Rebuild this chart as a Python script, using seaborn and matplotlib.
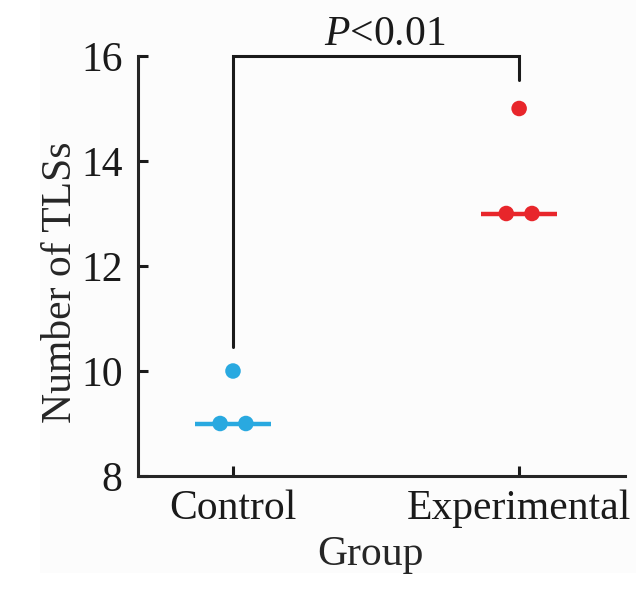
"""Scatter dot plot of TLS counts per group with median lines."""

import matplotlib

matplotlib.use("Agg")

import matplotlib.pyplot as plt
import numpy as np
import pandas as pd
import seaborn as sns
from matplotlib.patches import Rectangle

# Data
groups = ["Control", "Experimental"]
control_values = [10, 9, 9]
experimental_values = [15, 13, 13]
colors = ["#29A9E0", "#E8262B"]
y_ticks = [8, 10, 12, 14, 16]
p_label = r"$\it{P}$<0.01"

sns.set_theme(style="ticks")
plt.rcParams["font.family"] = ["Liberation Serif", "DejaVu Serif"]
plt.rcParams["mathtext.fontset"] = "custom"
plt.rcParams["mathtext.it"] = "Liberation Serif:italic"
plt.rcParams["mathtext.rm"] = "Liberation Serif"

rows = []
for gi, (name, vals) in enumerate(zip(groups, [control_values, experimental_values])):
    vals = np.asarray(vals)
    for v in np.unique(vals):
        n = int((vals == v).sum())
        # spread tied values symmetrically around the category centre
        offsets = (np.arange(n) - (n - 1) / 2) * 0.09
        for off in offsets:
            rows.append({"group": name, "x": gi + off, "value": v})
df = pd.DataFrame(rows)

fig = plt.figure(figsize=(6.42, 6.02), dpi=100)
fig.patches.append(
    Rectangle((40 / 642, 1 - 573 / 602), 596 / 642, 573 / 602, transform=fig.transFigure,
              facecolor="#fcfcfc", edgecolor="none", zorder=-10)
)
ax = fig.add_axes([138 / 642, 1 - 476 / 602, (625 - 138) / 642, (476 - 56) / 602])
ax.set_facecolor("none")

sns.scatterplot(
    data=df, x="x", y="value", hue="group", palette=colors,
    s=125, edgecolor="none", legend=False, ax=ax, zorder=3, clip_on=False,
)

# median lines
for gi, (name, vals) in enumerate(zip(groups, [control_values, experimental_values])):
    med = np.median(vals)
    ax.hlines(med, gi - 0.133, gi + 0.133, color=colors[gi], lw=3.2, zorder=2)

fs = 30
ax.set_xlim(-0.332, 1.37)
ax.set_ylim(8, 16)
ax.set_xticks(range(len(groups)))
ax.set_xticklabels(groups)
ax.set_yticks(y_ticks)
ax.set_xlabel("Group", fontsize=fs, va="top")
ax.xaxis.set_label_coords(0.478, -0.142)
ax.set_ylabel("Number of TLSs", fontsize=fs)
ax.yaxis.set_label_coords(-0.12, 0.462)

sns.despine(ax=ax)
for side in ["left", "bottom"]:
    ax.spines[side].set_linewidth(2.2)
ax.tick_params(axis="both", direction="in", length=7.5, width=2.2, labelsize=fs, colors="#1a1a1a")
ax.tick_params(axis="y", pad=11)
ax.tick_params(axis="x", pad=10)

# significance bracket
c_top = max(control_values) + 0.46
e_top = max(experimental_values) + 0.54
ax.plot([0, 0, 1, 1], [c_top, 16, 16, e_top], color="#1a1a1a", lw=2.2, clip_on=False,
        solid_joinstyle="miter")
ax.text(0.53, 16.21, p_label, ha="center", va="baseline", fontsize=fs, color="#1a1a1a")

fig.savefig("out.png", dpi=100, facecolor="white")
plt.close(fig)
